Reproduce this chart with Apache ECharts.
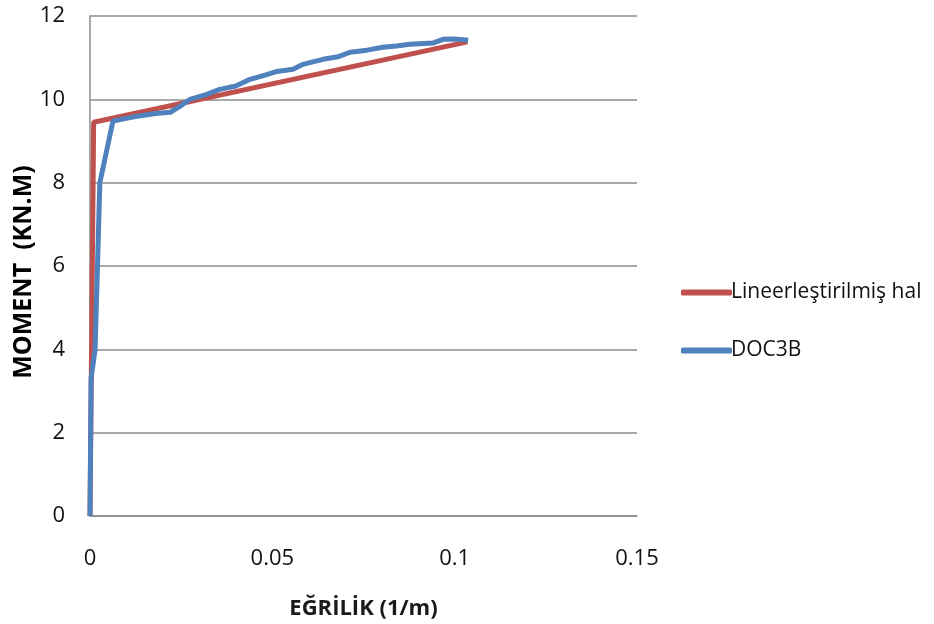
<!DOCTYPE html>
<html>
<head>
<meta charset="utf-8">
<script src="https://cdn.jsdelivr.net/npm/echarts@6/dist/echarts.min.js"></script>
<style>
  html, body { margin: 0; padding: 0; background: #fff; }
  #chart { width: 934px; height: 624px; }
</style>
</head>
<body>
<div id="chart"></div>
<script>
// Moment–curvature data: [curvature (1/m), moment (kN.m)]
const seriesNames = ['Lineerleştirilmiş hal', 'DOC3B'];
const linearized = [
  [0, 0], [0.0010, 9.45], [0.1035, 11.38]
];
const doc3b = [
  [0, 0], [0.0003, 3.3], [0.0014, 4.0], [0.0027, 8.0], [0.0063, 9.48],
  [0.0120, 9.58], [0.0180, 9.66], [0.0220, 9.69], [0.0250, 9.85],
  [0.0274, 10.0], [0.0320, 10.12], [0.0356, 10.24], [0.0400, 10.32],
  [0.0439, 10.48], [0.0480, 10.58], [0.0513, 10.67], [0.0557, 10.72],
  [0.0584, 10.84], [0.0639, 10.96], [0.0680, 11.02], [0.0713, 11.13],
  [0.0760, 11.18], [0.0803, 11.25], [0.0840, 11.28], [0.0877, 11.32],
  [0.0940, 11.35], [0.0968, 11.44], [0.1000, 11.45], [0.1037, 11.42]
];
const xTicks = [0, 0.05, 0.1, 0.15];
const yTicks = [0, 2, 4, 6, 8, 10, 12];

const font = "'Open Sans', 'Liberation Sans', sans-serif";
const chart = echarts.init(document.getElementById('chart'));
chart.setOption({
  animation: false,
  backgroundColor: '#ffffff',
  grid: {
    left: 90, right: 297, top: 16, bottom: 108,
    containLabel: false, outerBoundsMode: 'none'
  },
  legend: {
    orient: 'vertical',
    left: 676,
    top: 277,
    itemGap: 37,
    itemWidth: 51,
    itemHeight: 6,
    icon: 'roundRect',
    textStyle: { fontFamily: font, fontSize: 21, color: '#111', padding: [0, 0, 0, -6] },
    data: seriesNames
  },
  xAxis: {
    type: 'value',
    min: xTicks[0],
    max: xTicks[xTicks.length - 1],
    interval: xTicks[1] - xTicks[0],
    name: 'EĞRİLİK (1/m)',
    nameLocation: 'middle',
    nameGap: 82,
    nameMoveOverlap: false,
    nameTextStyle: { fontFamily: font, fontSize: 22, fontWeight: 'bold', color: '#1a1a1a' },
    axisLine: { lineStyle: { color: '#8c8c8c', width: 1.5 } },
    axisTick: { show: false },
    splitLine: { show: false },
    axisLabel: { fontFamily: font, fontSize: 22, color: '#111', margin: 32 }
  },
  yAxis: {
    type: 'value',
    min: yTicks[0],
    max: yTicks[yTicks.length - 1],
    interval: yTicks[1] - yTicks[0],
    name: 'MOMENT  (KN.M)',
    nameLocation: 'middle',
    nameGap: 54,
    nameMoveOverlap: false,
    nameTextStyle: { fontFamily: font, fontSize: 25, fontWeight: 'bold', color: '#000', padding: [0, 12, 0, 0] },
    axisLine: { show: true, lineStyle: { color: '#8c8c8c', width: 1.5 } },
    axisTick: { show: false },
    splitLine: { show: true, lineStyle: { color: '#8c8c8c', width: 1.5 } },
    axisLabel: { fontFamily: font, fontSize: 22, color: '#111', margin: 25 }
  },
  series: [
    {
      name: seriesNames[0],
      type: 'line',
      data: linearized,
      showSymbol: false,
      color: '#c0504d',
      lineStyle: { width: 5, color: '#c0504d' },
      z: 2
    },
    {
      name: seriesNames[1],
      type: 'line',
      data: doc3b,
      showSymbol: false,
      color: '#4f81bd',
      lineStyle: { width: 5, color: '#4f81bd' },
      z: 3
    }
  ]
});
</script>
</body>
</html>
